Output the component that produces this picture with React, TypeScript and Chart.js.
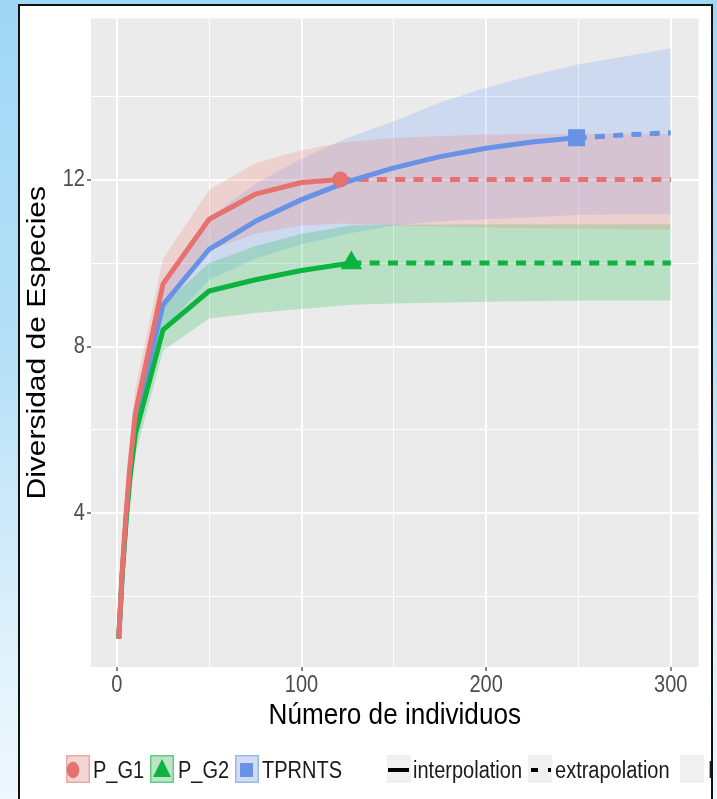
import React, { useEffect, useRef } from 'react';
import { Chart, registerables } from 'chart.js';

Chart.register(...registerables);

// ---------- data ----------
const seriesNames = ['P_G1', 'P_G2', 'TPRNTS'];
const lineTypeNames = ['interpolation', 'extrapolation', 'NA'];

const xMajorTicks = [0, 100, 200, 300];
const xMinorTicks = [50, 150, 250];
const yMajorTicks = [4, 8, 12];
const yMinorTicks = [2, 6, 10, 14];

// P_G1 (observed n = 121, S = 12)
const g1InterpX = [1, 3, 5, 7, 10, 25, 50, 75, 100, 121];
const g1InterpY = [1, 2.7, 4.0, 5.1, 6.4, 9.5, 11.05, 11.65, 11.93, 12];
const g1ExtrapX = [121, 150, 200, 250, 300];
const g1ExtrapY = [12, 12, 12, 12, 12];
const g1BandX = [1, 3, 5, 7, 10, 25, 50, 75, 100, 121, 150, 200, 250, 300];
const g1Lower = [1, 2.4, 3.6, 4.6, 5.8, 8.85, 10.3, 10.7, 10.9, 10.95, 10.9, 10.85, 10.82, 10.8];
const g1Upper = [1, 3.0, 4.4, 5.6, 7.0, 10.1, 11.75, 12.4, 12.7, 12.88, 13.0, 13.08, 13.1, 13.1];

// P_G2 (observed n = 127, S = 10)
const g2InterpX = [1, 3, 5, 7, 10, 25, 50, 75, 100, 127];
const g2InterpY = [1, 2.6, 3.8, 4.8, 5.9, 8.4, 9.33, 9.6, 9.82, 10];
const g2ExtrapX = [127, 200, 300];
const g2ExtrapY = [10, 10, 10];
const g2BandX = [1, 3, 5, 7, 10, 25, 50, 75, 100, 127, 150, 200, 250, 300];
const g2Lower = [1, 2.3, 3.4, 4.4, 5.4, 7.9, 8.67, 8.8, 8.9, 9.0, 9.03, 9.07, 9.1, 9.1];
const g2Upper = [1, 2.8, 4.1, 5.2, 6.4, 9.0, 10.0, 10.4, 10.7, 10.9, 10.92, 10.93, 10.93, 10.93];

// TPRNTS (observed n = 249, S = 13)
const tpInterpX = [1, 3, 5, 7, 10, 25, 50, 75, 100, 125, 150, 175, 200, 225, 249];
const tpInterpY = [1, 2.6, 3.9, 4.95, 6.2, 9.0, 10.33, 11.0, 11.52, 11.95, 12.28, 12.55, 12.75, 12.9, 13.0];
const tpExtrapX = [249, 275, 300];
const tpExtrapY = [13, 13.07, 13.12];
const tpBandX = [1, 3, 5, 7, 10, 25, 50, 75, 100, 125, 150, 175, 200, 225, 249, 275, 300];
const tpLower = [1, 2.3, 3.5, 4.5, 5.7, 8.4, 9.6, 10.1, 10.45, 10.7, 10.9, 11.0, 11.05, 11.1, 11.15, 11.17, 11.17];
const tpUpper = [1, 2.9, 4.3, 5.4, 6.7, 9.6, 11.1, 11.9, 12.5, 13.0, 13.4, 13.85, 14.2, 14.5, 14.75, 14.95, 15.15];

// ---------- styles ----------
const FONT = "'Liberation Sans', Arial, Helvetica, sans-serif";
const TEXT_SX = 0.87;
const lineColors = ['#E7716E', '#0DB33F', '#6892E6'];
const bandColors = ['rgba(248,118,109,0.22)', 'rgba(0,186,56,0.21)', 'rgba(97,156,255,0.22)'];
const keyBorders = ['rgba(231,113,110,0.45)', 'rgba(13,179,63,0.5)', 'rgba(104,146,230,0.5)'];

const pts = (xs: number[], ys: number[]) => xs.map((x, i) => ({ x, y: ys[i] }));

function condenseText(ctx: any) {
  if (ctx.__condensed) return;
  ctx.__condensed = true;
  const orig = ctx.fillText;
  ctx.fillText = function (text: string, x: number, y: number, maxWidth?: number) {
    const m = this.getTransform();
    const px = m.a * x + m.c * y + m.e;
    this.save();
    this.setTransform(TEXT_SX * m.a, m.b, TEXT_SX * m.c, m.d, TEXT_SX * m.e + px * (1 - TEXT_SX), m.f);
    if (maxWidth === undefined) orig.call(this, text, x, y);
    else orig.call(this, text, x, y, maxWidth);
    this.restore();
  };
}

const panelBg = {
  id: 'panelBg',
  beforeDraw(chart: any) {
    const { ctx, chartArea: a } = chart;
    ctx.save();
    ctx.fillStyle = '#EBEBEB';
    ctx.fillRect(a.left, a.top, a.right - a.left, a.bottom - a.top);
    ctx.restore();
  },
};

const ggLegend = {
  id: 'ggLegend',
  afterDraw(chart: any) {
    const ctx = chart.ctx;
    ctx.save();
    const top = 749;
    const h = 28;
    const cy = 764;
    const base = 772;
    const key = (x: number, w: number, fill: string | null, border: string | null) => {
      ctx.fillStyle = '#F0F0F0';
      ctx.fillRect(x, top, w, h);
      if (fill) {
        ctx.fillStyle = fill;
        ctx.fillRect(x, top, w, h);
      }
      if (border) {
        ctx.strokeStyle = border;
        ctx.lineWidth = 1.5;
        ctx.strokeRect(x + 0.75, top + 0.75, w - 1.5, h - 1.5);
      }
    };
    ctx.font = `23px ${FONT}`;
    ctx.textBaseline = 'alphabetic';
    ctx.textAlign = 'left';

    const keyX = [46, 130, 215];
    const textX = [73, 158, 242];
    seriesNames.forEach((name, i) => {
      key(keyX[i], 24, bandColors[i], keyBorders[i]);
      ctx.fillStyle = lineColors[i];
      if (i === 0) {
        ctx.beginPath();
        ctx.ellipse(53, cy, 6.3, 8.2, 0, 0, Math.PI * 2);
        ctx.fill();
      } else if (i === 1) {
        ctx.beginPath();
        ctx.moveTo(142, 753);
        ctx.lineTo(151, 771);
        ctx.lineTo(133, 771);
        ctx.closePath();
        ctx.fill();
      } else {
        ctx.fillRect(220, 757, 13, 14);
      }
      ctx.fillStyle = '#1A1A1A';
      ctx.fillText(name, textX[i], base);
    });

    const ltKeyX = [367, 508, 660];
    const ltTextX = [393, 535, 688];
    lineTypeNames.forEach((name, i) => {
      key(ltKeyX[i], 24, null, null);
      ctx.strokeStyle = '#000';
      ctx.lineWidth = 4;
      ctx.lineCap = 'butt';
      if (i === 0) {
        ctx.setLineDash([]);
        ctx.beginPath();
        ctx.moveTo(368, cy);
        ctx.lineTo(389, cy);
        ctx.stroke();
      } else if (i === 1) {
        ctx.setLineDash([7, 10]);
        ctx.beginPath();
        ctx.moveTo(511, cy);
        ctx.lineTo(531, cy);
        ctx.stroke();
        ctx.setLineDash([]);
      }
      ctx.fillStyle = '#1A1A1A';
      ctx.fillText(name, ltTextX[i], base);
    });
    ctx.restore();
  },
};

export default function App() {
  const ref = useRef<HTMLCanvasElement | null>(null);

  useEffect(() => {
    const canvas = ref.current;
    if (!canvas) return;
    const ctx = canvas.getContext('2d');
    condenseText(ctx);

    const interp = [pts(g1InterpX, g1InterpY), pts(g2InterpX, g2InterpY), pts(tpInterpX, tpInterpY)];
    const extrap = [pts(g1ExtrapX, g1ExtrapY), pts(g2ExtrapX, g2ExtrapY), pts(tpExtrapX, tpExtrapY)];
    const lowers = [pts(g1BandX, g1Lower), pts(g2BandX, g2Lower), pts(tpBandX, tpLower)];
    const uppers = [pts(g1BandX, g1Upper), pts(g2BandX, g2Upper), pts(tpBandX, tpUpper)];
    const observed = [
      [{ x: g1InterpX[g1InterpX.length - 1], y: g1InterpY[g1InterpY.length - 1] }],
      [{ x: g2InterpX[g2InterpX.length - 1], y: g2InterpY[g2InterpY.length - 1] }],
      [{ x: tpInterpX[tpInterpX.length - 1], y: tpInterpY[tpInterpY.length - 1] }],
    ];
    const markerStyle = ['circle', 'triangle', 'rect'];
    const markerRadius = [8, 12.5, 12];

    const datasets: any[] = [];
    seriesNames.forEach((name, i) => {
      datasets.push({
        label: name + ' observed',
        data: observed[i],
        showLine: false,
        pointStyle: markerStyle[i],
        pointRadius: markerRadius[i],
        pointBackgroundColor: lineColors[i],
        pointBorderColor: lineColors[i],
        pointBorderWidth: 0,
        order: 0,
      });
    });
    seriesNames.forEach((name, i) => {
      datasets.push({
        label: name + ' interpolation',
        data: interp[i],
        borderColor: lineColors[i],
        borderWidth: 5,
        borderJoinStyle: 'round',
        pointRadius: 0,
        fill: false,
        tension: 0,
        order: 1,
      });
    });
    seriesNames.forEach((name, i) => {
      datasets.push({
        label: name + ' extrapolation',
        data: extrap[i],
        borderColor: lineColors[i],
        borderWidth: 5,
        borderDash: [10, 8.3],
        borderCapStyle: 'butt',
        pointRadius: 0,
        fill: false,
        tension: 0,
        order: 2,
      });
    });
    seriesNames.forEach((name, i) => {
      const upperIdx = datasets.length;
      datasets.push({
        label: name + ' upper',
        data: uppers[i],
        borderColor: 'rgba(0,0,0,0)',
        borderWidth: 0,
        pointRadius: 0,
        backgroundColor: bandColors[i],
        fill: upperIdx + 1,
        tension: 0,
        order: 3,
      });
      datasets.push({
        label: name + ' lower',
        data: lowers[i],
        borderColor: 'rgba(0,0,0,0)',
        borderWidth: 0,
        pointRadius: 0,
        fill: false,
        tension: 0,
        order: 3,
      });
    });

    const xAll = [...xMajorTicks, ...xMinorTicks].sort((a, b) => a - b);
    const yAll = [...yMajorTicks, ...yMinorTicks].sort((a, b) => a - b);

    const chart = new Chart(canvas, {
      type: 'line',
      data: { datasets },
      options: {
        animation: false,
        responsive: false,
        maintainAspectRatio: false,
        events: [],
        layout: { padding: { left: 0, right: 7, top: 9, bottom: 65 } },
        plugins: { legend: { display: false }, tooltip: { enabled: false } },
        scales: {
          x: {
            type: 'linear',
            min: -14,
            max: 315,
            afterBuildTicks: (s: any) => {
              s.ticks = xAll.map((v) => ({ value: v }));
            },
            afterFit: (s: any) => {
              s.height = 67;
              s.paddingLeft = 0;
              s.paddingRight = 0;
            },
            ticks: {
              autoSkip: false,
              maxRotation: 0,
              minRotation: 0,
              padding: 1,
              color: '#4D4D4D',
              font: { family: FONT, size: 23 },
              callback: (v: any) => (xMajorTicks.includes(Number(v)) ? String(v) : ''),
            },
            grid: {
              color: '#FFFFFF',
              lineWidth: (c: any) => (c.tick && xMajorTicks.includes(c.tick.value) ? 2 : 1),
              drawTicks: true,
              tickLength: 4,
              tickWidth: 1.2,
              tickColor: (c: any) => (c.tick && xMajorTicks.includes(c.tick.value) ? '#333333' : 'rgba(0,0,0,0)'),
            },
            border: { display: false },
            title: {
              display: true,
              text: 'Número de individuos',
              color: '#000000',
              font: { family: FONT, size: 30 },
              padding: 0,
            },
          },
          y: {
            type: 'linear',
            min: 0.32,
            max: 15.86,
            afterBuildTicks: (s: any) => {
              s.ticks = yAll.map((v) => ({ value: v }));
            },
            afterFit: (s: any) => {
              s.width = 71;
              s.paddingTop = 0;
              s.paddingBottom = 0;
            },
            ticks: {
              autoSkip: false,
              padding: 2,
              color: '#4D4D4D',
              font: { family: FONT, size: 23 },
              callback: (v: any) => (yMajorTicks.includes(Number(v)) ? String(v) : ''),
            },
            grid: {
              color: '#FFFFFF',
              lineWidth: (c: any) => (c.tick && yMajorTicks.includes(c.tick.value) ? 2 : 1),
              drawTicks: true,
              tickLength: 4,
              tickWidth: 1.2,
              tickColor: (c: any) => (c.tick && yMajorTicks.includes(c.tick.value) ? '#333333' : 'rgba(0,0,0,0)'),
            },
            border: { display: false },
            title: {
              display: true,
              text: 'Diversidad de Especies',
              color: '#000000',
              font: { family: FONT, size: 30 },
              padding: 0,
            },
          },
        },
      },
      plugins: [panelBg, ggLegend],
    } as any);

    return () => chart.destroy();
  }, []);

  return (
    <div
      style={{
        position: 'fixed',
        left: 0,
        top: 0,
        width: 717,
        height: 799,
        overflow: 'hidden',
        background: 'linear-gradient(180deg, #9fd7f5 0%, #b6e0f7 45%, #def1fb 80%, #eef8fd 100%)',
      }}
    >
      <div
        style={{
          position: 'absolute',
          left: 18,
          top: 4,
          width: 695,
          height: 830,
          boxSizing: 'border-box',
          border: '2px solid #111',
          background: '#FFFFFF',
          overflow: 'hidden',
        }}
      >
        <canvas ref={ref} width={691} height={793} style={{ display: 'block', width: 691, height: 793 }} />
      </div>
    </div>
  );
}
